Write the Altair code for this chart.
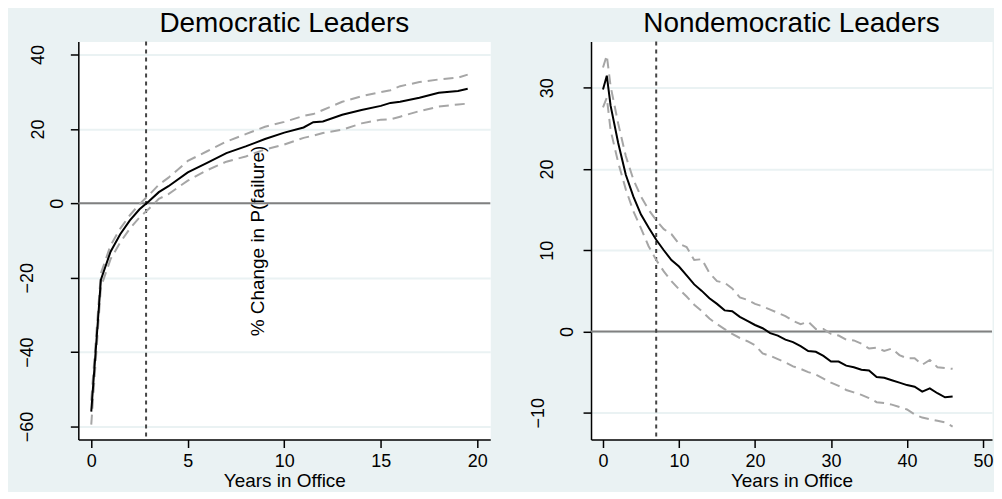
import altair as alt
import pandas as pd

# ---------------- data ----------------
dem_years = [0, 0.5, 1, 1.5, 2, 2.5, 3, 3.5, 4, 5, 6, 7, 8, 9, 10, 11, 11.5, 12,
             13, 14, 15, 15.5, 16, 17, 18, 19, 19.5]
dem_est = [-56.0, -20.5, -13.0, -8.3, -4.6, -1.6, 0.6, 3.0, 4.6, 8.3, 10.9, 13.5,
           15.3, 17.3, 19.0, 20.4, 21.8, 22.0, 23.8, 25.1, 26.2, 27.0, 27.3, 28.4,
           29.7, 30.2, 30.8]
dem_upper = [-53.0, -18.8, -11.3, -6.8, -3.2, -0.2, 2.3, 5.0, 6.9, 11.4, 14.0, 16.6,
             18.6, 20.6, 21.9, 23.5, 24.0, 25.1, 27.3, 28.8, 29.9, 30.4, 31.5, 32.6,
             33.3, 33.8, 34.6]
dem_lower = [-59.5, -22.5, -15.0, -10.5, -6.8, -3.8, -1.4, 1.2, 2.5, 6.1, 8.9, 11.2,
             12.6, 14.5, 15.8, 17.6, 18.2, 18.9, 19.8, 21.5, 22.5, 22.6, 23.3, 24.8,
             26.0, 26.6, 26.8]

nd_years = [0, 0.5, 1, 2, 3, 4, 5, 6, 7, 8, 9, 10, 11, 12, 13, 14, 15, 16, 17, 18,
            19, 20, 21, 22, 23, 24, 25, 26, 27, 28, 29, 30, 31, 32, 33, 34, 35, 36,
            37, 38, 39, 40, 41, 42, 43, 44, 45, 46]
nd_est = [29.8, 31.5, 27.8, 23.2, 19.3, 16.6, 14.4, 12.8, 11.3, 10.0, 8.8, 8.0, 6.9,
          5.8, 5.0, 4.1, 3.4, 2.6, 2.5, 1.8, 1.3, 0.8, 0.4, -0.2, -0.5, -1.0, -1.3,
          -1.8, -2.4, -2.5, -3.0, -3.7, -3.7, -4.2, -4.4, -4.7, -4.8, -5.6, -5.7,
          -6.0, -6.3, -6.6, -6.8, -7.4, -7.0, -7.6, -8.1, -8.0]
nd_upper = [32.5, 34.0, 30.2, 25.6, 21.6, 18.7, 16.6, 15.0, 13.7, 12.6, 12.0, 10.8,
            10.4, 8.8, 8.9, 7.2, 6.2, 6.0, 5.3, 4.2, 3.9, 3.4, 3.1, 2.7, 2.3, 1.9,
            1.3, 0.9, 1.2, 0.3, 0.3, -0.3, -0.5, -1.0, -1.1, -1.5, -2.1, -2.0, -2.4,
            -2.1, -2.9, -3.3, -3.3, -4.1, -3.5, -4.4, -4.5, -4.6]
nd_lower = [27.6, 28.8, 24.8, 20.8, 17.5, 14.8, 12.7, 10.5, 8.8, 7.4, 6.2, 5.2, 4.3,
            3.3, 2.5, 1.6, 0.9, 0.3, -0.3, -0.8, -1.2, -1.7, -2.7, -3.0, -3.4, -3.8,
            -4.3, -4.6, -5.0, -5.3, -5.8, -6.3, -6.7, -7.2, -7.5, -7.8, -8.2, -8.7,
            -8.8, -9.0, -9.3, -9.6, -10.2, -10.6, -10.8, -11.0, -11.2, -11.7]

dem_ref_year = [2.84]
nd_ref_year = [7.0]
zero_line = [0]

dem_xticks = [0, 5, 10, 15, 20]
dem_yticks = [-60, -40, -20, 0, 20, 40]
nd_xticks = [0, 10, 20, 30, 40, 50]
nd_yticks = [-10, 0, 10, 20, 30]

FONT = "Liberation Sans"
BG = "#EAF2F3"


def panel(title, years, est, upper, lower, ref, xdom, ydom, xticks, yticks,
          width, height, ytitle, pad_one, pad_two, pad_three):
    df = pd.DataFrame({"year": years, "est": est, "upper": upper, "lower": lower})
    xscale = alt.Scale(domain=xdom, nice=False, zero=False)
    yscale = alt.Scale(domain=ydom, nice=False, zero=False)
    xaxis = alt.Axis(values=xticks, grid=False, title="Years in Office",
                     labelAngle=0, labelPadding=5, titleY=47,
                     titleBaseline="alphabetic")
    yaxis_kw = dict(values=yticks, grid=True, gridColor=BG, gridWidth=2,
                    labelAngle=270, labelAlign="center", labelBaseline="middle",
                    labelPadding={"condition": [
                        {"test": "datum.value === 0", "value": pad_one},
                        {"test": "datum.value < 0", "value": pad_three}],
                        "value": pad_two})
    if ytitle:
        yaxis = alt.Axis(title=ytitle, titleAngle=270, titleX=180,
                         titleY=height / 2, titleAlign="center",
                         titleBaseline="middle", **yaxis_kw)
    else:
        yaxis = alt.Axis(title=None, **yaxis_kw)

    base = alt.Chart(df)
    zero = alt.Chart(pd.DataFrame({"z": zero_line})).mark_rule(
        color="#808080", strokeWidth=2).encode(y=alt.Y("z:Q", scale=yscale, axis=yaxis))
    vline = alt.Chart(pd.DataFrame({"r": ref})).mark_rule(
        color="#444444", strokeWidth=2, strokeDash=[4, 4]).encode(
        x=alt.X("r:Q", scale=xscale, axis=xaxis))
    up = base.mark_line(color="#A6A6A6", strokeWidth=2, strokeDash=[10, 6]).encode(
        x=alt.X("year:Q", scale=xscale, axis=xaxis),
        y=alt.Y("upper:Q", scale=yscale, axis=yaxis))
    lo = base.mark_line(color="#A6A6A6", strokeWidth=2, strokeDash=[10, 6]).encode(
        x=alt.X("year:Q", scale=xscale, axis=xaxis),
        y=alt.Y("lower:Q", scale=yscale, axis=yaxis))
    mid = base.mark_line(color="black", strokeWidth=2).encode(
        x=alt.X("year:Q", scale=xscale, axis=xaxis),
        y=alt.Y("est:Q", scale=yscale, axis=yaxis))
    return alt.layer(zero, vline, up, lo, mid).properties(
        width=width, height=height,
        title=alt.TitleParams(title, anchor="middle", offset=-19,
                              baseline="alphabetic"))


left = panel("Democratic Leaders", dem_years, dem_est, dem_upper, dem_lower,
             dem_ref_year, [-0.67, 20.67], [-63.5, 43.5], dem_xticks, dem_yticks,
             413, 399, "% Change in P(failure)", 13, 32, 42.5)
right = panel("Nondemocratic Leaders", nd_years, nd_est, nd_upper, nd_lower,
              nd_ref_year, [-1.575, 51.18], [-13.3, 35.7], nd_xticks, nd_yticks,
              402, 399, None, 16, 35.5, 45)

chart = alt.hconcat(left, right, spacing=36).properties(
    background=BG,
    padding={"left": 10.5, "top": 0, "right": 0, "bottom": 0},
).configure_view(
    fill="white", stroke="transparent"
).configure_axis(
    domainColor="black", domainWidth=1.5, tickColor="black", tickWidth=1.5,
    tickSize=8, labelFont=FONT, labelFontSize=18, labelColor="black",
    titleFont=FONT, titleFontSize=19, titleFontWeight="normal", titleColor="black",
).configure_title(
    font=FONT, fontSize=28, fontWeight="normal", color="black"
)

chart.save("out.html", embed_options={"renderer": "svg", "actions": False})
